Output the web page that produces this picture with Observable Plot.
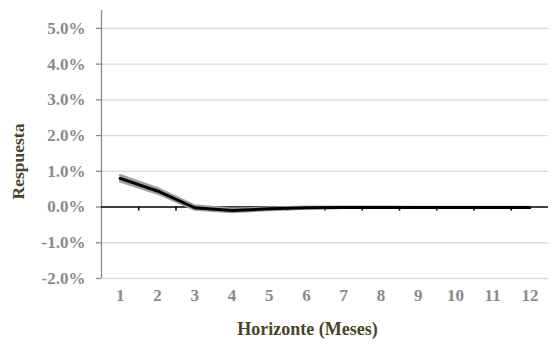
<!DOCTYPE html>
<html>
<head>
<meta charset="utf-8">
<script src="https://cdn.jsdelivr.net/npm/d3@7"></script>
<script src="https://cdn.jsdelivr.net/npm/@observablehq/plot@0.6"></script>
<style>
  html, body { margin: 0; padding: 0; background: #fff; }
  #chart svg { display: block; }
</style>
</head>
<body>
<div id="chart"></div>
<script>
const horizonte = [1, 2, 3, 4, 5, 6, 7, 8, 9, 10, 11, 12];
const respuesta = [0.80, 0.45, -0.02, -0.10, -0.05, -0.02, -0.01, -0.01, -0.01, -0.01, -0.01, -0.01];
const superior  = [0.89, 0.53, 0.04, -0.05, -0.02, 0.01, 0.01, 0.01, 0.00, 0.00, 0.00, 0.00];
const inferior  = [0.72, 0.38, -0.07, -0.14, -0.08, -0.04, -0.02, -0.02, -0.02, -0.02, -0.02, -0.02];
const yTicks = [-2, -1, 0, 1, 2, 3, 4, 5];
const bordes = [1.5, 2.5, 3.5, 4.5, 5.5, 6.5, 7.5, 8.5, 9.5, 10.5, 11.5];

const data = horizonte.map((h, i) => ({h, r: respuesta[i], up: superior[i], lo: inferior[i]}));

const font = "'Liberation Serif', 'DejaVu Serif', serif";
const grisEje = "#8a8a8a";
const chart = Plot.plot({
  width: 554,
  height: 346,
  marginLeft: 101,
  marginRight: 6,
  marginTop: 10,
  marginBottom: 68,
  style: {fontFamily: font, fontSize: "17px", fontWeight: "bold", background: "#fff"},
  x: {domain: [0.5, 12.5], axis: null},
  y: {domain: [-2, 5.5], axis: null},
  marks: [
    Plot.gridY(yTicks.filter(d => d !== 0), {stroke: "#d9d9d9", strokeOpacity: 1, strokeWidth: 1.3}),
    Plot.ruleX([0.5], {y1: -2, y2: 5.5, stroke: grisEje, strokeWidth: 1.3}),
    Plot.ruleY(yTicks, {x1: 0.5, x2: 0.5, insetLeft: -5, stroke: grisEje, strokeWidth: 1.3}),
    Plot.text(yTicks, {y: d => d, text: d => d.toFixed(1) + "%", frameAnchor: "left", textAnchor: "end", dx: -16, fill: grisEje, fontSize: 17, fontWeight: "bold"}),
    Plot.text(horizonte, {x: d => d, text: d => String(d), frameAnchor: "bottom", dy: 22, fill: grisEje, fontSize: 17, fontWeight: "bold"}),
    Plot.ruleY([0], {stroke: "#000", strokeWidth: 1.6}),
    Plot.ruleX(bordes, {y1: 0, y2: 0, insetBottom: -4, stroke: "#000", strokeWidth: 1.6}),
    Plot.areaY(data, {x: "h", y1: "lo", y2: "up", fill: "#9a9a9a", fillOpacity: 0.9}),
    Plot.line(data, {x: "h", y: "up", stroke: "#a0a0a0", strokeWidth: 2.5}),
    Plot.line(data, {x: "h", y: "lo", stroke: "#a0a0a0", strokeWidth: 2.5}),
    Plot.line(data, {x: "h", y: "r", stroke: "#000", strokeWidth: 3}),
    Plot.text(["Horizonte (Meses)"], {frameAnchor: "bottom", dy: 56, dx: -17.5, fill: "#4a4429", fontSize: 18, fontWeight: "bold"}),
    Plot.text(["Respuesta"], {frameAnchor: "left", textAnchor: "middle", dx: -83, dy: 17, rotate: -90, fill: "#4a4429", fontSize: 17.5, fontWeight: "bold"})
  ]
});
document.getElementById("chart").append(chart);
</script>
</body>
</html>
